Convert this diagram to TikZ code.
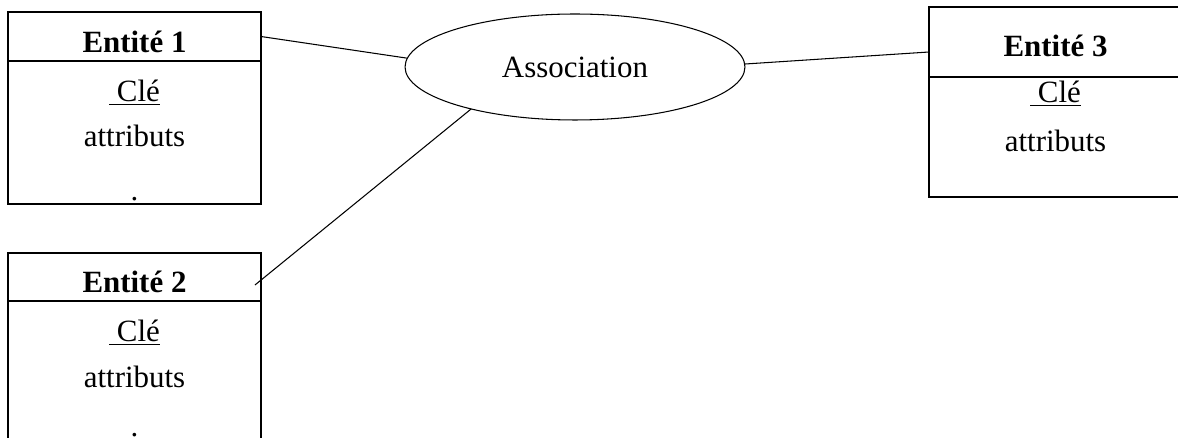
\documentclass[tikz,border=0pt]{standalone}
\usepackage{fontspec}
\setmainfont{Liberation Serif}
\usetikzlibrary{shapes,positioning}

\begin{document}
\begin{tikzpicture}[
    x=0.02cm, y=-0.02cm,
    font=\fontsize{17.6}{21}\selectfont,
    box/.style={rectangle, draw, line width=0.75pt, minimum width=5.06cm, inner sep=0pt, outer sep=0pt},
    txt/.style={anchor=base, inner sep=0pt},
    link/.style={line width=0.6pt}
]
    \useasboundingbox (0,0) rectangle (1178,438);

    % Entities
    \node[box, minimum height=0.98cm] (e1head) at (134.5,36.5) {};
    \node[box, minimum height=2.86cm, below=0pt of e1head] (e1body) {};
    \node[box, minimum height=0.96cm] (e2head) at (134.5,277) {};
    \node[box, minimum height=3.40cm, below=0pt of e2head] (e2body) {};
    \node[box, minimum height=1.40cm] (e3head) at (1055.5,42) {};
    \node[box, minimum height=2.40cm, below=0pt of e3head] (e3body) {};

    % Entity texts
    \node[txt] (e1name) at (134.5,53) {\textbf{Entité 1}};
    \node[txt] (e1key) at (134.5,102) {\underline{\ Clé}};
    \node[txt] (e1attr) at (134.5,147) {attributs};
    \node[txt] (e1dot) at (134.5,201) {.};
    \node[txt] (e2name) at (134.5,293) {\textbf{Entité 2}};
    \node[txt] (e2key) at (134.5,342) {\underline{\ Clé}};
    \node[txt] (e2attr) at (134.5,388) {attributs};
    \node[txt] (e2dot) at (134.5,437) {.};
    \node[txt] (e3name) at (1055.5,57) {\textbf{Entité 3}};
    \node[txt] (e3key) at (1055.5,103) {\underline{\ Clé}};
    \node[txt] (e3attr) at (1055.5,152) {attributs};

    % Association
    \node[ellipse, draw, line width=0.6pt, minimum width=6.8cm, minimum height=2.12cm, inner sep=0pt, outer sep=0pt] (assoc) at (575,67) {Association};

    % Links
    \coordinate (e2end) at ([shift={(-6,8)}]e2head.east);
    \coordinate (e3end) at ([shift={(0,10)}]e3head.west);
    \draw[link] (e1head.east) -- (assoc.177);
    \draw[link] (assoc.202) -- (e2end);
    \draw[link] (assoc.1) -- (e3end);
\end{tikzpicture}
\end{document}
